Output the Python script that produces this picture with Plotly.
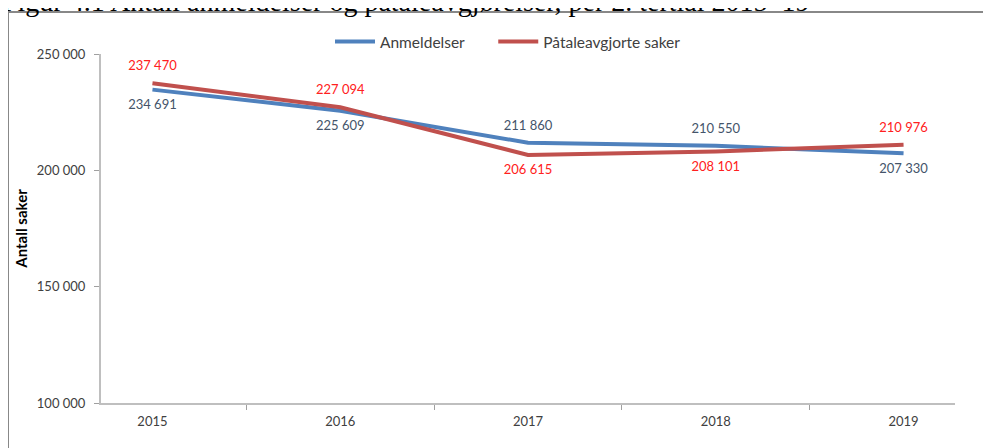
import plotly.graph_objects as go

years = ["2015", "2016", "2017", "2018", "2019"]
anmeldelser = [234691, 225609, 211860, 210550, 207330]
pataleavgjorte = [237470, 227094, 206615, 208101, 210976]
anm_pos = ["bottom center", "bottom center", "top center", "top center", "bottom center"]
pat_pos = ["top center", "top center", "bottom center", "bottom center", "top center"]

# page has an 8px body margin; figure coords = page coords - 8
OFF = 8
W, H = 991 - OFF, 448 - OFF
L, T = 101 - OFF, 54 - OFF
R = W - (955 - OFF)
B = H - (403 - OFF)
pw, ph = W - L - R, H - T - B

def px_x(p):
    return (p - OFF - L) / pw

def px_y(p):
    return 1 - (p - OFF - T) / ph

fig = go.Figure()
fig.add_trace(go.Scatter(
    x=years, y=anmeldelser, name="Anmeldelser\u00a0\u00a0\u00a0\u00a0\u00a0\u00a0",
    mode="lines+markers+text",
    line=dict(color="#4F81BD", width=4),
    marker=dict(size=14, color="rgba(0,0,0,0)"),
    text=anmeldelser, texttemplate="%{y:,}", textposition=anm_pos,
    textfont=dict(color="#44546A", size=13, family="Lato"),
    cliponaxis=False,
))
fig.add_trace(go.Scatter(
    x=years, y=pataleavgjorte, name="Påtaleavgjorte saker",
    mode="lines+markers+text",
    line=dict(color="#C0504D", width=4),
    marker=dict(size=14, color="rgba(0,0,0,0)"),
    text=pataleavgjorte, texttemplate="%{y:,}", textposition=pat_pos,
    textfont=dict(color="#FF2020", size=13, family="Lato"),
    cliponaxis=False,
))

fig.update_layout(
    width=W, height=H,
    margin=dict(l=L, r=R, t=T, b=B),
    paper_bgcolor="white", plot_bgcolor="white",
    separators=". ",
    font=dict(family="Lato", size=13, color="#404040"),
    showlegend=True,
    legend=dict(orientation="h", x=px_x(508), xanchor="center", y=px_y(42), yanchor="middle",
                font=dict(size=15.5, color="#404040"), bgcolor="rgba(0,0,0,0)",
                itemwidth=40, tracegroupgap=0),
    xaxis=dict(type="category", showgrid=False, showline=True, linecolor="#BFBFBF", linewidth=2,
               ticks="outside", tickson="boundaries", ticklen=5, tickcolor="#A0A0A0",
               ticklabelstandoff=5,
               tickfont=dict(size=13, color="#404040"), zeroline=False),
    yaxis=dict(range=[100000, 250000], tickvals=[100000, 150000, 200000, 250000],
               tickformat=",", showgrid=False, showline=True, linecolor="#BFBFBF", linewidth=2,
               ticks="outside", ticklen=5, tickcolor="#A0A0A0", zeroline=False,
               ticklabelstandoff=6,
               tickfont=dict(size=13, color="#404040"),
               title=dict(text="<b>Antall saker</b>", font=dict(size=15, color="#000000"), standoff=6)),
    shapes=[dict(type="rect", xref="paper", yref="paper",
                 x0=px_x(8), x1=px_x(1000), y0=px_y(470), y1=px_y(12),
                 line=dict(color="#888888", width=2), fillcolor="rgba(0,0,0,0)", layer="below")],
    annotations=[dict(text="Figur 4.1 Antall anmeldelser og påtaleavgjørelser, per 2. tertial 2015–19",
                      xref="paper", yref="paper", x=px_x(0), y=px_y(19), xanchor="left", yanchor="bottom",
                      showarrow=False, font=dict(family="Liberation Serif", size=28, color="#000000"))],
)

fig.write_html("out.html")
